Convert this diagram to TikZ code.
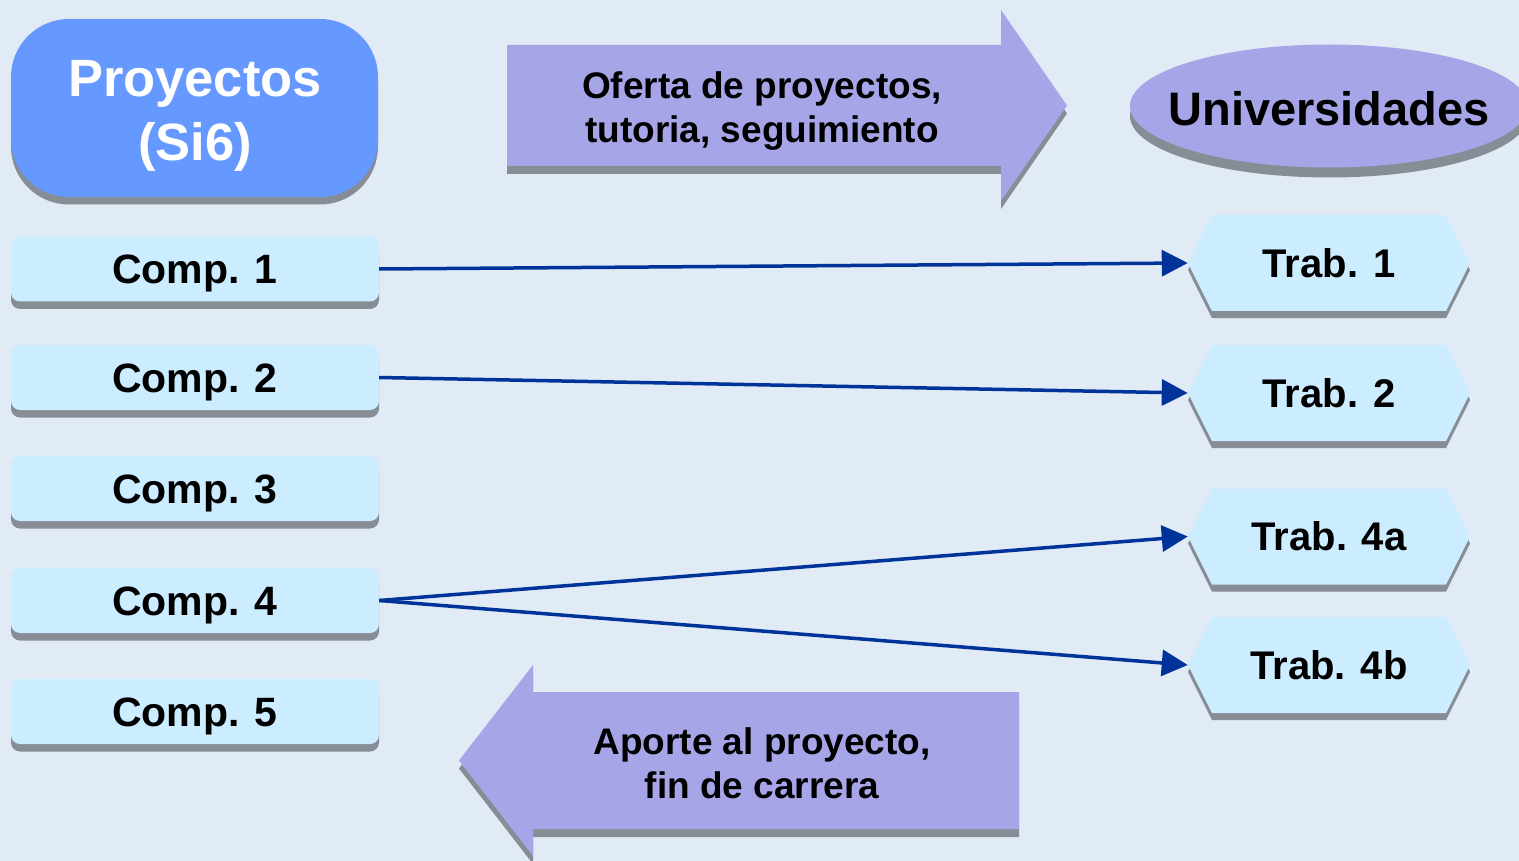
\documentclass[tikz,border=0pt]{standalone}
\usepackage{fontspec}
\setmainfont{Liberation Sans}
\usetikzlibrary{shapes.geometric,shapes.symbols,arrows.meta,shadows}
\definecolor{bgc}{HTML}{E1EBF5}
\definecolor{projc}{HTML}{6699FF}
\definecolor{compc}{HTML}{CCECFF}
\definecolor{lavc}{HTML}{A5A5E8}
\definecolor{shadowc}{HTML}{878D95}
\definecolor{linec}{HTML}{003399}
\begin{document}
\begin{tikzpicture}[x=1pt,y=-1pt,
  shd/.style={drop shadow={shadow xshift=0pt,shadow yshift=-#1,fill=shadowc,opacity=1}},
  compbox/.style={rectangle,rounded corners=9pt,fill=compc,minimum width=368pt,minimum height=65pt,
    inner sep=0pt,text height=29pt,text depth=0pt,font=\bfseries\fontsize{41}{49}\selectfont,shd=7.5pt},
  trabbox/.style={signal,signal to=west and east,signal pointer angle=127,fill=compc,
    minimum width=282pt,minimum height=96pt,inner sep=0pt,text height=28.5pt,text depth=0pt,
    font=\bfseries\fontsize{40}{48}\selectfont,shd=7pt},
  bigarrow/.style={fill=lavc},
  arrowshadow/.style={fill=shadowc},
  arrowtext/.style={align=center,inner sep=0pt,font=\bfseries\fontsize{37}{44}\selectfont},
  link/.style={draw=linec,line width=3.5pt,-{Triangle[length=26pt,width=26pt]}}
]
\useasboundingbox (0,0) rectangle (1519,861);
\fill[bgc] (0,0) rectangle (1519,861);

% Proyectos
\node[rectangle,rounded corners=58pt,fill=projc,minimum width=367pt,minimum height=178pt,inner sep=0pt,shd=7.5pt] (proj) at (194.5,108) {};
\node[align=center,inner sep=0pt,text=white,font=\bfseries\fontsize{52.5}{64}\selectfont] (projtxt) at (195,116.3) {Proyectos\\(Si6)};

% Universidades
\node[ellipse,fill=lavc,minimum width=398pt,minimum height=123pt,inner sep=0pt,shd=10pt] (univ) at (1329,106) {};
\node[inner sep=0pt,text height=33.5pt,text depth=0pt,font=\bfseries\fontsize{47}{56}\selectfont] (univtxt) at (1329,109) {Universidades};

% Oferta arrow
\fill[arrowshadow,shift={(0,8)}] (507,45) -- (1001,45) -- (1001,10) -- (1067,105.5) -- (1001,201) -- (1001,166) -- (507,166) -- cycle;
\fill[bigarrow] (507,45) -- (1001,45) -- (1001,10) -- (1067,105.5) -- (1001,201) -- (1001,166) -- (507,166) -- cycle;
\node[arrowtext] (oferta) at (762,110.6) {Oferta de proyectos,\\tutoria, seguimiento};

% Aporte arrow
\fill[arrowshadow,shift={(0,8)}] (1019,692) -- (533,692) -- (533,665) -- (459,760.5) -- (533,856) -- (533,829) -- (1019,829) -- cycle;
\fill[bigarrow] (1019,692) -- (533,692) -- (533,665) -- (459,760.5) -- (533,856) -- (533,829) -- (1019,829) -- cycle;
\node[arrowtext] (aporte) at (762,762.8) {Aporte al proyecto,\\fin de carrera};

% Comp boxes
\node[compbox] (c1) at (195,269) {Comp. 1};
\node[compbox] (c2) at (195,377.5) {Comp. 2};
\node[compbox] (c3) at (195,488.5) {Comp. 3};
\node[compbox] (c4) at (195,600.5) {Comp. 4};
\node[compbox] (c5) at (195,711.5) {Comp. 5};

% Trab hexagons
\node[trabbox] (t1) at (1329,263) {Trab. 1};
\node[trabbox] (t2) at (1329,393) {Trab. 2};
\node[trabbox] (t4a) at (1329,536.5) {Trab. 4a};
\node[trabbox] (t4b) at (1329,665) {Trab. 4b};

% Connectors
\draw[link] (c1.east) -- (t1.west);
\draw[link] (c2.east) -- (t2.west);
\draw[link] (c4.east) -- (t4a.west);
\draw[link] (c4.east) -- (t4b.west);
\end{tikzpicture}
\end{document}
